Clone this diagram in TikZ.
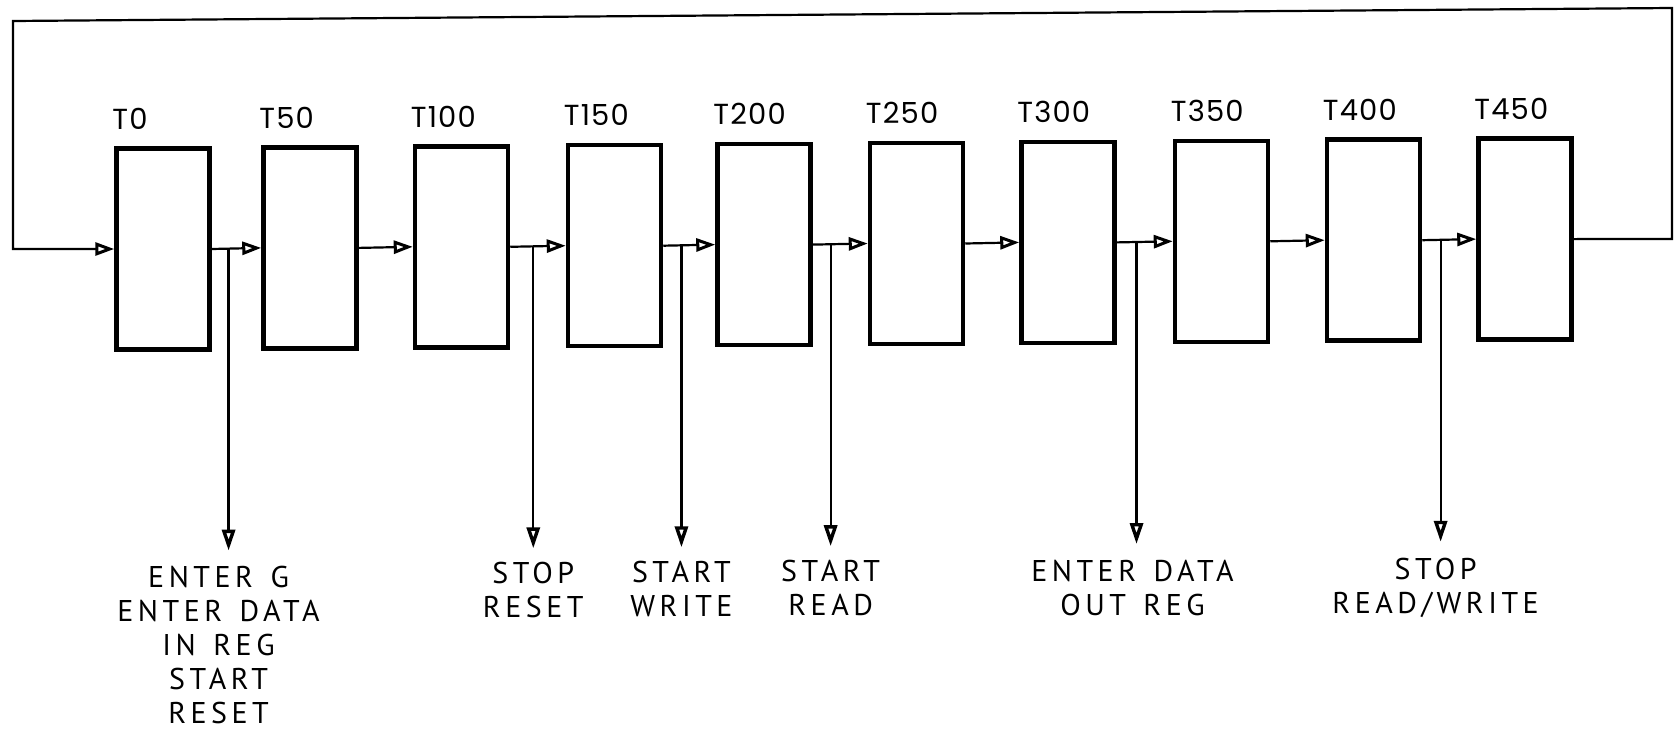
\documentclass[tikz,border=0pt]{standalone}
\usepackage{fontspec}
\newfontfamily\tfont{Poppins}[LetterSpace=4.0]
\newfontfamily\lfont{PT Sans}[LetterSpace=15.0, WordSpace=1.4]
\usetikzlibrary{arrows.meta,calc}
\begin{document}
\begin{tikzpicture}[x=1pt,y=-1pt,
  stage/.style={draw, line width=4.5pt, minimum width=93pt, minimum height=201pt, inner sep=0pt},
  tlab/.style={anchor=base west, inner sep=0pt, font=\tfont\fontsize{29}{32}\selectfont},
  blab/.style={anchor=north, inner sep=0pt, align=center, font=\lfont\fontsize{30}{34}\selectfont},
  link/.style={line width=2.2pt, line join=miter, -{Triangle[open,length=19pt,width=13pt,line width=3pt]}},
  tap/.style={line width=2.2pt, -{Triangle[open,length=21pt,width=13pt,line width=3.4pt]}}
]
\useasboundingbox (0,0) rectangle (1674,731);

% stages and their time labels
\foreach \i/\x/\lab in {0/163/T0, 1/310/T50, 2/461.5/T100, 3/614.5/T150, 4/764/T200,
                        5/916.5/T250, 6/1068/T300, 7/1221.5/T350, 8/1373.5/T400, 9/1525/T450}{
  \node[stage] (t\i) at (\x,{249-1.1*\i}) {};
  \node[tlab] (n\i) at ($(t\i.north west)+(-2,-17)$) {\lab};
}

% chain connectors
\foreach \i [evaluate=\i as \j using int(\i+1)] in {0,...,8}{
  \draw[link] (t\i.east) -- (t\j.west);
}

% feedback loop
\coordinate (r1) at (1672,239);
\coordinate (r2) at (1672,8);
\coordinate (l1) at (13,21);
\coordinate (l2) at (13,249);
\draw[link] (t9.east) -- (r1) -- (r2) -- (l1) -- (l2) -- (t0.west);

% junctions on the chain
\path (t0.east) -- (t1.west) coordinate[pos=0.34] (j0);
\path (t2.east) -- (t3.west) coordinate[pos=0.415] (j1);
\path (t3.east) -- (t4.west) coordinate[pos=0.35] (j2);
\path (t4.east) -- (t5.west) coordinate[pos=0.325] (j3);
\path (t6.east) -- (t7.west) coordinate[pos=0.353] (j4);
\path (t8.east) -- (t9.west) coordinate[pos=0.34] (j5);

% taps
\foreach \k in {0,...,5}{
  \draw[tap] (j\k) -- ++(0,302) coordinate (e\k);
}

% output labels
\node[blab] (o0) at ($(e0)+(-10,15)$) {ENTER G\\ENTER DATA\\IN REG\\START\\RESET};
\node[blab] (o1) at ($(e1)+(0,14)$) {STOP\\RESET};
\node[blab] (o2) at ($(e2)+(0,14)$) {START\\WRITE};
\node[blab] (o3) at ($(e3)+(0,14)$) {START\\READ};
\node[blab] (o4) at ($(e4)+(-4,16)$) {ENTER DATA\\OUT REG};
\node[blab] (o5) at ($(e5)+(-5,16)$) {STOP\\READ/WRITE};
\end{tikzpicture}
\end{document}
